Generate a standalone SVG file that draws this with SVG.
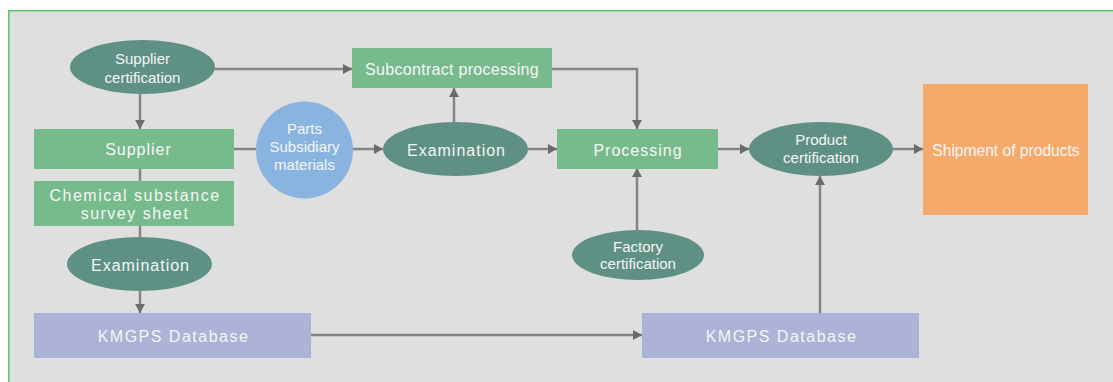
<svg xmlns="http://www.w3.org/2000/svg" width="1113" height="382" viewBox="0 0 1113 382">
<style>
.rg{fill:#77bb8d}
.el{fill:#5e9183}
.db{fill:#acb3d7}
.t{font-family:"Liberation Sans",Arial,sans-serif;fill:#f5f5f5;text-anchor:middle}
.t16{font-size:16px;letter-spacing:1px}
.t15{font-size:15px}
.tdb{font-size:16px;letter-spacing:1.5px}
.ln{stroke:#858585;stroke-width:2.5;fill:none}
.ar{marker-end:url(#ah)}
</style>
<defs>
<marker id="ah" markerUnits="userSpaceOnUse" markerWidth="10" markerHeight="12" refX="9" refY="6" orient="auto">
<path d="M0,1 L9,6 L0,11 Z" fill="#6b6b6b"/>
</marker>
</defs>
<rect x="8" y="10" width="1105" height="372" fill="#dfdfdf"/>
<path d="M8.8,382 V10.8 H1113" fill="none" stroke="#5ccb6e" stroke-width="1.6"/>

<g id="connectors">
<path class="ln ar" d="M215,69 H352"/>
<path class="ln ar" d="M140,94 V129"/>
<path class="ln" d="M234,149 H257"/>
<path class="ln ar" d="M353,149 H383"/>
<path class="ln ar" d="M454,122 V88"/>
<path class="ln ar" d="M528,149 H557"/>
<path class="ln ar" d="M552,69 H637 V129"/>
<path class="ln ar" d="M718,149 H749"/>
<path class="ln ar" d="M893,149 H923"/>
<path class="ln ar" d="M637,230 V168"/>
<path class="ln" d="M140,168 V181"/>
<path class="ln" d="M140,226 V237"/>
<path class="ln ar" d="M140,291 V313"/>
<path class="ln ar" d="M311,335 H642"/>
<path class="ln ar" d="M820,313 V176"/>
</g>

<g id="supplier-certification">
<ellipse class="el" cx="142.5" cy="67" rx="72.5" ry="27"/>
<text class="t t15" x="142.5" y="64">Supplier</text>
<text class="t t15" x="142.5" y="83">certification</text>
</g>

<g id="subcontract-processing">
<rect class="rg" x="352" y="48" width="200" height="40"/>
<text class="t t16" x="452" y="75" style="letter-spacing:0.3px">Subcontract processing</text>
</g>

<g id="supplier">
<rect class="rg" x="34" y="129" width="200" height="40"/>
<text class="t t16" x="138.5" y="155">Supplier</text>
</g>

<g id="parts">
<circle cx="304.5" cy="150" r="48.5" fill="#8ab4e0"/>
<text class="t t15" x="304.5" y="134">Parts</text>
<text class="t t15" x="304.5" y="152">Subsidiary</text>
<text class="t t15" x="304.5" y="170">materials</text>
</g>

<g id="examination-1">
<ellipse class="el" cx="455.5" cy="149" rx="72.5" ry="27"/>
<text class="t t16" x="456.5" y="156">Examination</text>
</g>

<g id="processing">
<rect class="rg" x="557" y="129" width="161" height="40"/>
<text class="t t16" x="638" y="156">Processing</text>
</g>

<g id="product-certification">
<ellipse class="el" cx="821" cy="149" rx="72" ry="27"/>
<text class="t t15" x="821" y="145">Product</text>
<text class="t t15" x="821" y="163">certification</text>
</g>

<g id="shipment">
<rect x="923" y="84" width="165" height="131" fill="#f4aa6a"/>
<text class="t" x="1006" y="156" style="font-size:15.6px">Shipment of products</text>
</g>

<g id="factory-certification">
<ellipse class="el" cx="638" cy="255" rx="66" ry="25"/>
<text class="t t15" x="638" y="252">Factory</text>
<text class="t t15" x="638" y="269">certification</text>
</g>

<g id="chemical-substance">
<rect class="rg" x="34" y="181" width="200" height="45"/>
<text class="t" x="135" y="201" style="font-size:16px;letter-spacing:1.5px">Chemical substance</text>
<text class="t" x="135" y="219" style="font-size:16px;letter-spacing:1.5px">survey sheet</text>
</g>

<g id="examination-2">
<ellipse class="el" cx="139.5" cy="264" rx="72.5" ry="27"/>
<text class="t t16" x="140.5" y="271">Examination</text>
</g>

<g id="kmgps-db-1">
<rect class="db" x="34" y="313" width="277" height="45"/>
<text class="t tdb" x="173.5" y="342">KMGPS Database</text>
</g>

<g id="kmgps-db-2">
<rect class="db" x="642" y="313" width="277" height="45"/>
<text class="t tdb" x="781.5" y="342">KMGPS Database</text>
</g>
</svg>
